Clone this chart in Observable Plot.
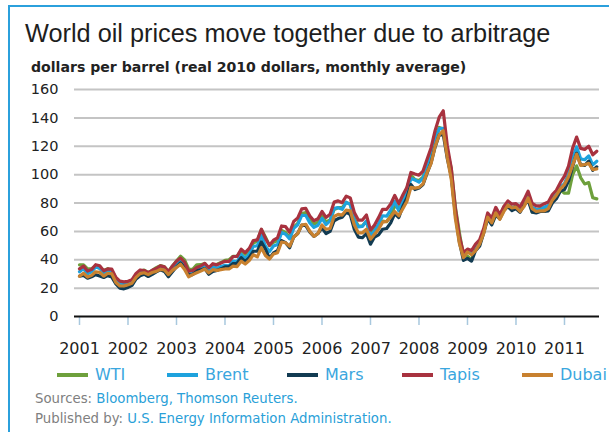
<!DOCTYPE html>
<html><head><meta charset="utf-8">
<script src="https://cdn.jsdelivr.net/npm/d3@7"></script>
<script src="https://cdn.jsdelivr.net/npm/@observablehq/plot@0.6"></script>
<style>
html,body{margin:0;padding:0;background:#fff;width:609px;height:432px;overflow:hidden}
#wrap{position:relative;width:609px;height:432px;overflow:hidden}
.frame{position:absolute;left:8px;top:5px;width:700px;height:500px;border-left:2px solid #2ba0dc;border-top:2px solid #2ba0dc}
#title{position:absolute;left:25px;top:19px;font:25.3px "Liberation Sans",Arial,sans-serif;line-height:28px;color:#1e1e1e;white-space:nowrap}
#subtitle{position:absolute;left:31px;top:59px;font:bold 14.1px "DejaVu Sans",sans-serif;line-height:16px;color:#222;white-space:nowrap}
#chart{position:absolute;left:0;top:80px}
#chart svg{overflow:visible}
.leg{position:absolute;top:366.5px;font:16px "DejaVu Sans",sans-serif;line-height:16px;color:#3aa6de;white-space:nowrap}
.sw{position:absolute;top:373px;width:31px;height:4px}
.src{position:absolute;left:35px;font:13.3px "DejaVu Sans",sans-serif;line-height:13px;color:#808080;white-space:nowrap}
.src span{color:#2a9fd8}
</style></head>
<body><div id="wrap">
<div class="frame"></div>
<div id="title">World oil prices move together due to arbitrage</div>
<div id="subtitle">dollars per barrel (real 2010 dollars, monthly average)</div>
<div id="chart"></div>
<div id="legend"></div>
<div class="src" style="top:391.5px">Sources: <span>Bloomberg, Thomson Reuters.</span></div>
<div class="src" style="top:411.5px">Published by: <span>U.S. Energy Information Administration.</span></div>
</div>
<script>
const startYear = 2001; // monthly values, Jan 2001 - Sep 2011
const years = [2001,2002,2003,2004,2005,2006,2007,2008,2009,2010,2011];
const yTicks = [0,20,40,60,80,100,120,140,160];
const seriesNames = ["WTI","Brent","Mars","Tapis","Dubai"];

const wti = [
36.4,36.4,33.5,33.7,35.2,33.9,32.5,33.7,32.2,27.3,24.1,23.7,
23.8,25.0,29.6,31.7,32.7,30.9,32.5,34.4,35.9,35.0,31.8,35.6,
39.1,42.5,39.8,33.5,33.3,36.4,36.5,37.4,33.5,35.9,36.9,38.0,
39.6,40.0,42.4,42.4,46.5,43.9,47.0,51.8,53.1,61.3,56.0,50.0,
52.3,53.6,60.7,59.2,55.6,62.9,65.6,72.6,73.3,69.7,65.1,66.4,
70.9,66.7,68.1,75.4,76.7,76.7,80.5,79.0,69.0,63.7,63.9,67.1,
57.3,62.4,63.5,67.3,66.8,71.0,78.0,76.2,84.1,90.3,99.7,96.5,
95.8,98.3,107.6,114.9,125.4,133.2,132.1,116.7,104.1,77.4,59.0,42.7,
42.5,39.9,48.9,50.6,60.2,71.0,65.5,72.4,70.8,77.2,79.6,76.0,
78.3,76.4,81.2,84.3,73.7,75.3,76.3,76.6,75.2,81.9,84.3,89.2,
86.9,87.0,99.8,106.2,97.9,93.4,94.4,83.7,82.9];

const brent = [
31.5,33.8,30.1,31.5,34.9,34.1,30.1,31.6,31.5,25.2,23.2,22.9,
23.5,24.6,28.7,31.1,30.7,29.2,31.1,32.3,34.2,33.3,29.6,34.2,
37.0,38.9,35.9,29.6,30.6,32.7,33.7,35.3,32.0,35.1,34.1,35.3,
36.1,35.7,39.0,38.5,43.7,40.6,44.1,49.3,49.9,57.5,49.7,45.7,
49.7,50.8,59.3,58.0,54.7,62.1,64.7,71.3,71.2,65.9,62.8,64.3,
69.1,64.8,67.4,76.2,76.7,75.5,80.5,79.0,67.9,63.2,63.5,67.4,
56.5,60.4,65.3,71.0,70.7,75.0,81.2,74.5,81.1,86.6,97.3,96.3,
94.7,97.6,105.4,112.6,123.9,132.4,132.6,113.9,99.1,73.5,54.8,43.3,
45.8,44.3,48.7,51.8,59.8,70.7,67.1,74.6,69.6,75.4,79.1,76.7,
76.9,74.7,79.9,85.7,77.0,75.7,75.5,77.1,78.2,83.5,86.1,91.4,
93.6,100.6,111.2,119.6,111.1,110.5,113.2,106.9,109.4];

const mars = [
28.5,29.0,27.0,28.0,29.5,28.5,27.5,28.8,27.8,23.0,20.0,19.5,
20.5,22.0,26.5,28.8,29.8,28.2,29.7,31.5,32.9,31.8,28.0,31.5,
35.0,37.8,34.5,29.2,29.5,32.5,32.8,33.8,29.8,31.8,32.5,33.6,
35.0,35.0,37.3,37.5,41.5,38.6,41.5,46.0,46.0,52.5,47.5,41.0,
44.8,46.5,53.5,52.0,48.5,56.0,58.5,64.5,64.0,59.5,56.5,58.5,
62.5,58.5,60.0,67.5,69.0,70.0,73.5,71.8,61.5,56.0,55.5,58.5,
51.0,56.0,57.5,61.5,62.0,66.0,72.5,69.8,77.5,83.5,93.0,89.5,
90.5,93.0,101.0,108.5,119.5,128.0,128.5,111.5,98.8,72.0,52.5,39.5,
41.0,39.0,46.5,49.5,58.8,69.0,64.5,71.5,68.8,74.8,77.5,74.6,
76.0,73.5,78.5,82.0,73.5,73.0,74.0,74.0,74.5,80.0,83.0,88.5,
89.5,95.5,105.5,115.0,107.0,106.5,109.5,103.0,105.5];

const tapis = [
33.6,35.5,32.0,33.2,36.5,35.8,32.2,33.5,33.4,27.5,24.9,24.4,
24.8,26.0,30.4,32.8,32.4,30.9,32.6,33.8,35.7,35.0,31.5,35.6,
39.0,41.2,38.3,32.0,32.4,34.5,35.6,37.4,34.5,37.2,36.4,37.7,
38.9,38.8,42.3,42.4,47.4,45.0,48.0,53.5,54.0,61.5,55.1,50.2,
53.8,55.5,63.8,63.3,59.4,67.0,69.5,75.8,76.2,70.8,67.5,68.9,
74.0,69.8,72.0,80.6,81.5,80.2,84.8,83.6,73.3,68.0,68.0,71.5,
61.0,64.5,69.7,75.6,75.5,79.3,85.4,79.6,85.6,91.0,101.5,100.4,
99.6,102.5,110.8,119.0,131.2,140.5,145.0,120.5,104.4,76.0,56.5,45.0,
47.5,46.5,51.0,54.0,62.0,73.0,69.3,76.9,71.8,77.6,81.5,79.2,
79.5,77.2,82.4,88.3,79.8,78.0,78.0,79.5,80.7,86.0,89.0,94.5,
99.0,106.0,118.5,126.5,118.5,117.8,120.0,114.0,116.5];

const dubai = [
28.3,30.5,27.8,29.0,31.5,31.2,28.5,30.5,30.0,24.0,21.5,21.5,
22.4,23.5,27.6,30.2,30.8,29.5,31.0,31.8,33.2,32.8,29.5,32.5,
34.6,36.8,33.2,28.0,29.5,30.8,32.0,33.5,30.8,33.0,32.5,33.0,
33.5,33.5,35.5,35.2,39.0,37.0,39.5,43.5,42.0,48.5,43.0,40.5,
44.0,45.0,52.5,52.0,49.5,56.0,58.5,64.5,65.0,60.0,56.5,58.5,
64.5,61.5,62.0,70.5,72.0,71.5,75.0,74.5,64.5,59.0,59.0,61.5,
54.5,58.0,61.5,66.5,67.0,70.0,74.0,71.0,76.0,81.0,91.0,90.5,
91.0,93.5,101.5,108.0,120.0,128.0,131.0,112.0,96.5,69.0,51.5,41.5,
45.5,43.5,46.5,51.0,58.5,70.0,66.0,73.0,68.5,74.0,78.5,76.5,
77.0,74.0,77.5,83.5,76.0,74.0,74.5,74.5,76.0,82.0,85.5,90.0,
93.0,98.5,106.5,114.5,106.5,107.0,108.0,103.5,104.0];

const seriesValues = [wti, brent, mars, tapis, dubai];
const colors = ["#6ea03c","#1ea2dd","#123b52","#a8323f","#c8812f"];

const rowsOf = vals => vals.map((v, i) => ({t: startYear + i / 12, v}));

const lineMarks = seriesValues.map((vals, k) =>
  Plot.line(rowsOf(vals), {x: "t", y: "v", stroke: colors[k], strokeWidth: 3.2, strokeLinejoin: "round", curve: "linear"})
);

const chart = Plot.plot({
  width: 609, height: 290,
  marginLeft: 74, marginRight: 10, marginTop: 9, marginBottom: 54,
  x: {type: "linear", domain: [2000.897, 2011.722], axis: null},
  y: {domain: [0, 160], axis: null},
  style: {fontFamily: "DejaVu Sans", background: "transparent", overflow: "visible"},
  marks: [
    Plot.gridY(yTicks.filter(d => d > 0), {stroke: "#c4c4c4", strokeOpacity: 1, strokeWidth: 2}),
    Plot.axisY(yTicks, {tickSize: 0, tickPadding: 16, fontSize: 14.5, fill: "#222", label: null}),
    Plot.axisX(years, {tickSize: 9, tickPadding: 17, stroke: "#a8c8de", strokeWidth: 1.5, fill: "#222", fontSize: 16, tickFormat: d => String(d), label: null}),
    ...lineMarks,
    Plot.ruleY([0], {stroke: "#111", strokeWidth: 2})
  ]
});
document.getElementById("chart").appendChild(chart);

const legendLeft = [57, 167, 287, 402, 522];
const legend = document.getElementById("legend");
seriesNames.forEach((name, k) => {
  const sw = document.createElement("div");
  sw.className = "sw";
  sw.style.left = legendLeft[k] + "px";
  sw.style.background = colors[k];
  legend.appendChild(sw);
  const tx = document.createElement("div");
  tx.className = "leg";
  tx.style.left = (legendLeft[k] + 38) + "px";
  tx.textContent = name;
  legend.appendChild(tx);
});
</script>
</body></html>
